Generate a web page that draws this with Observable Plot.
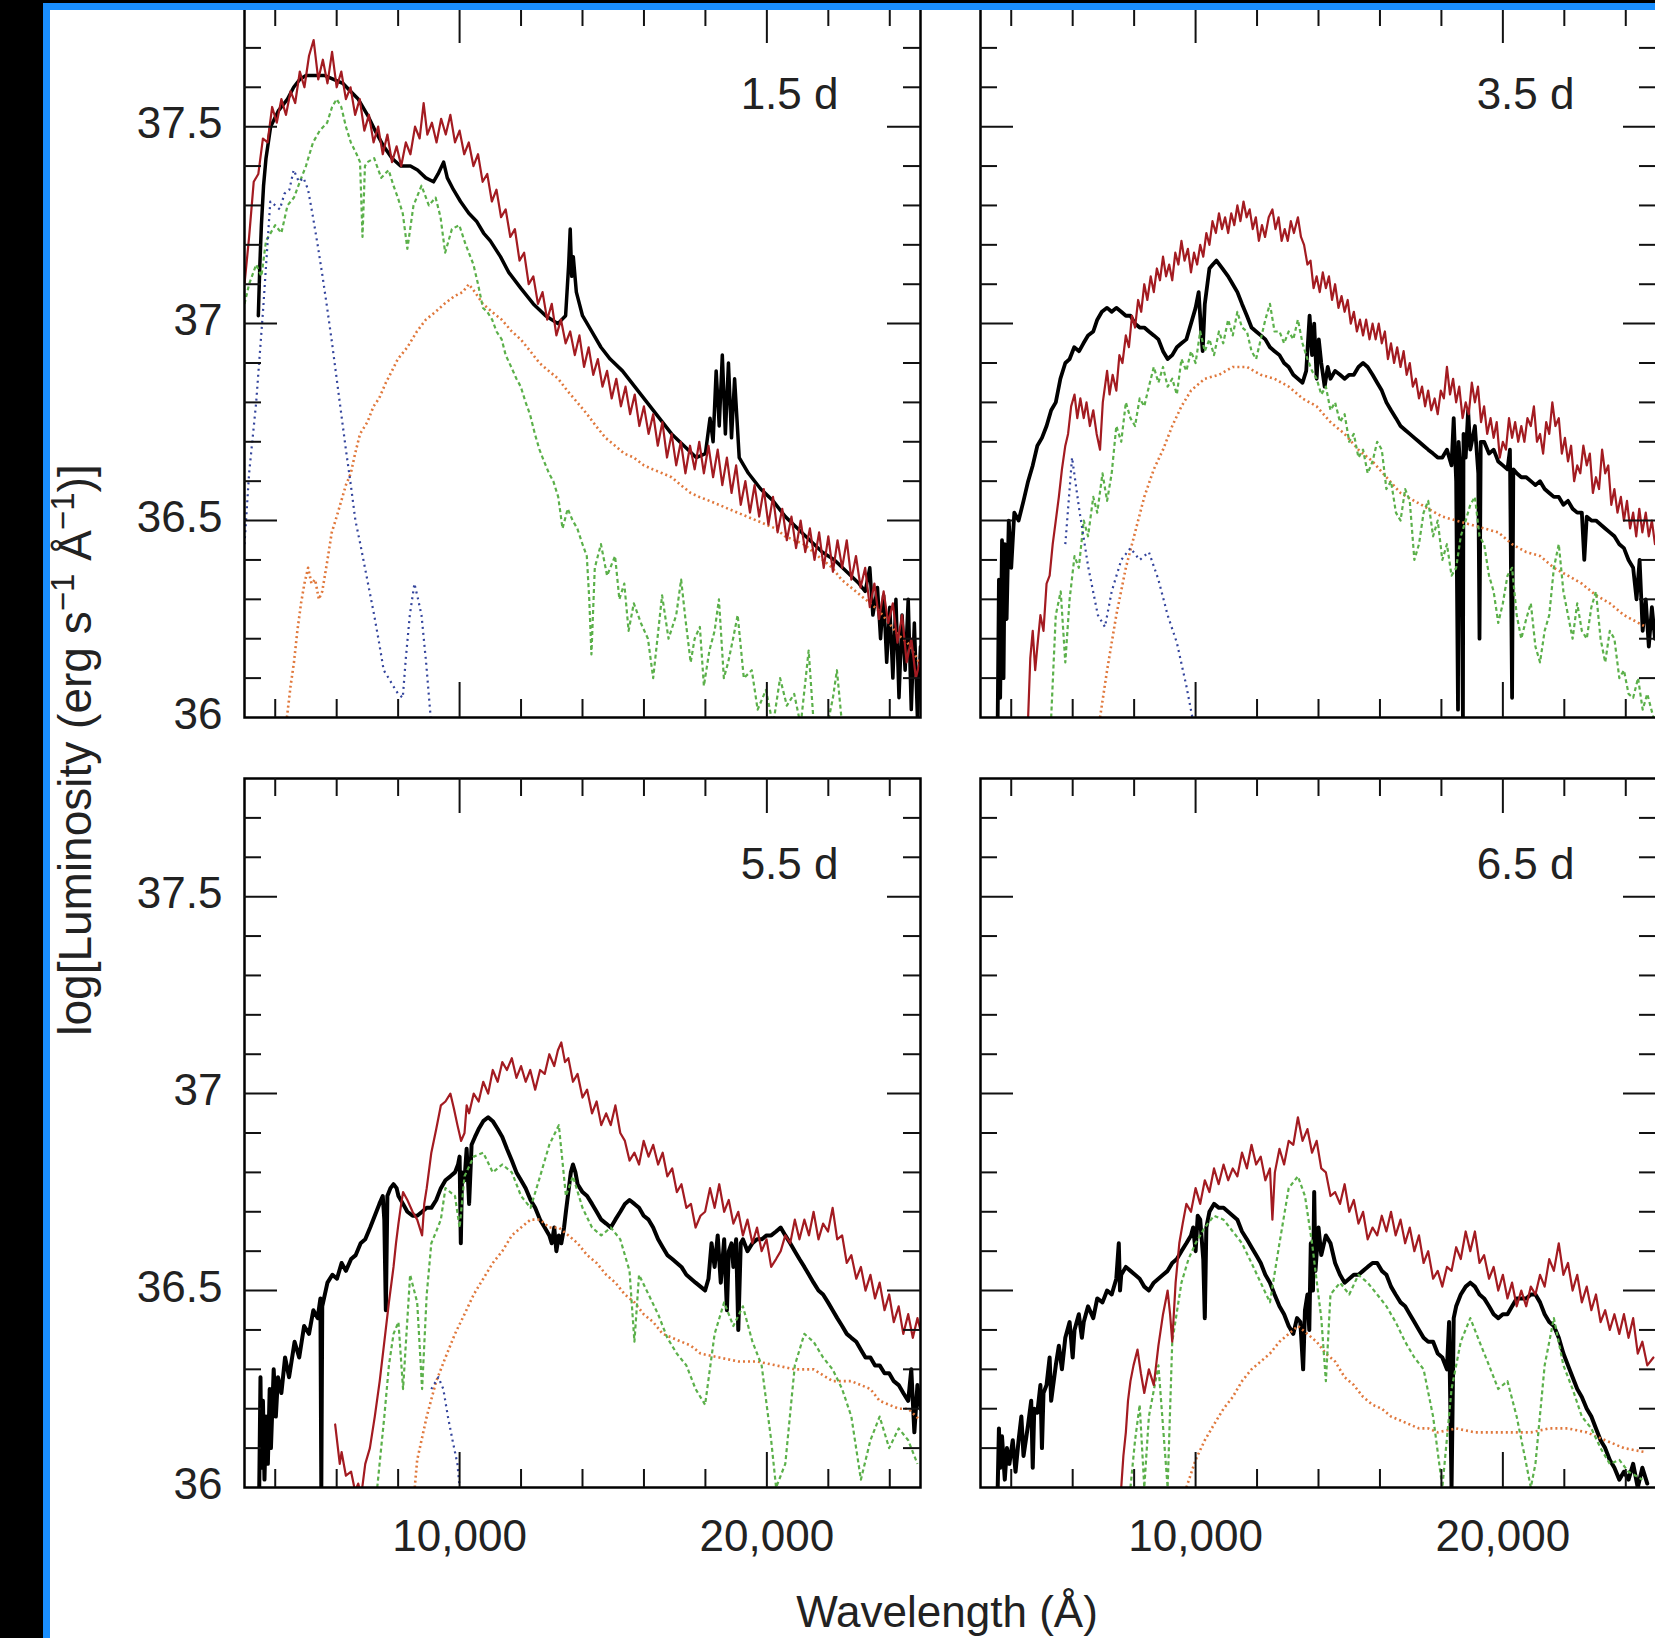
<!DOCTYPE html>
<html><head><meta charset="utf-8">
<script src="https://cdn.jsdelivr.net/npm/d3@7"></script>
<script src="https://cdn.jsdelivr.net/npm/@observablehq/plot@0.6"></script>
<style>
html,body{margin:0;padding:0;background:#000;overflow:hidden;width:1655px;height:1638px;}
#frame{position:absolute;left:43px;top:3px;width:1605px;height:1628px;background:#fff;border-left:7px solid #1a8fff;border-top:7px solid #1a8fff;overflow:hidden;font-family:"Liberation Sans",Arial,Helvetica,sans-serif;color:#222;}
#ytitle{position:absolute;width:900px;height:46px;left:-425px;top:717px;text-align:center;font-size:46px;line-height:46px;transform:rotate(-90deg);white-space:nowrap;}
#xtitle{position:absolute;width:600px;height:44px;left:597px;top:1580px;text-align:center;font-size:44px;line-height:44px;white-space:nowrap;}
sup{font-size:0.72em;vertical-align:0;position:relative;top:-0.5em;}
</style></head>
<body>
<div id="frame">
<div id="ytitle">log[Luminosity (erg s<sup>−1</sup> Å<sup>−1</sup>)]</div>
<div id="xtitle">Wavelength (Å)</div>
</div>
<script>
// ---- axis ticks / labels ----
const xDomain = [3000, 25000];
const yDomain = [36, 37.8];
const xTicksMinor = [4000, 6000, 8000, 12000, 14000, 16000, 18000, 22000, 24000];
const xTicksMajor = [10000, 20000];
const yTicksMinor = [36.1, 36.2, 36.3, 36.4, 36.6, 36.7, 36.8, 36.9, 37.1, 37.2, 37.3, 37.4, 37.6, 37.7];
const yTicksMajor = [36.5, 37, 37.5];
const xTickLabels = [10000, 20000];
const yTickLabels = [36, 36.5, 37, 37.5];
const panelLabels = ["1.5 d", "3.5 d", "5.5 d", "6.5 d"];

// ---- panel 1 (1.5 d) ----
const p1Black = [[3450,37.02],[3500,37.15],[3550,37.25],[3620,37.35],[3700,37.42],[3850,37.50],[4100,37.54],[4400,37.57],[4600,37.60],[4800,37.62],[5000,37.63],[5250,37.63],[5600,37.63],[5900,37.62],[6200,37.61],[6450,37.59],[6700,37.57],[7000,37.53],[7250,37.49],[7530,37.45],[7800,37.42],[8080,37.40],[8400,37.40],[8630,37.39],[8900,37.37],[9150,37.36],[9300,37.38],[9480,37.41],[9600,37.37],[9800,37.34],[10030,37.31],[10300,37.28],[10550,37.26],[10780,37.23],[11000,37.21],[11330,37.17],[11600,37.13],[11990,37.09],[12400,37.05],[12800,37.02],[13200,37.00],[13450,37.02],[13550,37.15],[13600,37.24],[13650,37.12],[13700,37.17],[13800,37.08],[14000,37.02],[14300,36.98],[14600,36.94],[14900,36.91],[15300,36.88],[15700,36.84],[16100,36.80],[16500,36.76],[16900,36.72],[17300,36.69],[17700,36.66],[18000,36.67],[18150,36.76],[18250,36.70],[18350,36.88],[18450,36.74],[18550,36.92],[18650,36.72],[18750,36.90],[18850,36.71],[18950,36.86],[19100,36.66],[19400,36.62],[19800,36.58],[20200,36.55],[20600,36.51],[21000,36.48],[21400,36.45],[21800,36.42],[22200,36.40],[22600,36.37],[23000,36.34],[23200,36.32],[23350,36.38],[23450,36.26],[23600,36.33],[23700,36.20],[23800,36.31],[23900,36.14],[24000,36.28],[24100,36.10],[24200,36.30],[24300,36.05],[24400,36.26],[24500,36.12],[24600,36.30],[24700,36.02],[24800,36.24],[24900,36.00],[25000,36.18]];
const p1Red = [[3000,37.10],[3150,37.22],[3300,37.36],[3450,37.38],[3600,37.47],[3750,37.46],[3900,37.55],[4050,37.51],[4200,37.57],[4350,37.53],[4500,37.59],[4650,37.56],[4800,37.64],[4950,37.60],[5100,37.68],[5250,37.72],[5400,37.62],[5550,37.67],[5700,37.61],[5850,37.69],[6000,37.60],[6150,37.64],[6300,37.57],[6450,37.60],[6600,37.53],[6750,37.57],[6900,37.49],[7050,37.53],[7200,37.46],[7350,37.50],[7500,37.43],[7650,37.48],[7800,37.41],[7950,37.45],[8100,37.40],[8250,37.46],[8400,37.43],[8550,37.50],[8700,37.47],[8830,37.56],[8950,37.48],[9100,37.51],[9250,37.46],[9400,37.52],[9550,37.48],[9700,37.53],[9850,37.46],[10000,37.49],[10150,37.43],[10300,37.46],[10450,37.40],[10600,37.43],[10750,37.36],[10900,37.38],[11050,37.31],[11200,37.34],[11350,37.27],[11500,37.29],[11650,37.22],[11800,37.24],[11950,37.16],[12100,37.18],[12250,37.10],[12400,37.12],[12550,37.05],[12700,37.08],[12850,37.01],[13000,37.05],[13150,36.97],[13300,37.01],[13450,36.95],[13600,36.98],[13750,36.92],[13900,36.97],[14050,36.89],[14200,36.94],[14350,36.87],[14500,36.91],[14650,36.84],[14800,36.88],[14950,36.81],[15100,36.86],[15250,36.79],[15400,36.84],[15550,36.77],[15700,36.82],[15850,36.74],[16000,36.79],[16150,36.72],[16300,36.77],[16450,36.69],[16600,36.75],[16750,36.66],[16900,36.72],[17050,36.64],[17200,36.70],[17350,36.62],[17500,36.69],[17650,36.63],[17800,36.70],[17950,36.62],[18100,36.69],[18250,36.61],[18400,36.68],[18550,36.59],[18700,36.66],[18850,36.57],[19000,36.64],[19150,36.54],[19300,36.60],[19450,36.52],[19600,36.59],[19750,36.51],[19900,36.58],[20050,36.49],[20200,36.56],[20350,36.47],[20500,36.53],[20650,36.45],[20800,36.51],[20950,36.43],[21100,36.50],[21250,36.42],[21400,36.48],[21550,36.40],[21700,36.47],[21850,36.38],[22000,36.46],[22150,36.37],[22300,36.45],[22450,36.38],[22600,36.45],[22750,36.35],[22900,36.41],[23050,36.33],[23200,36.38],[23350,36.28],[23500,36.34],[23650,36.25],[23800,36.32],[23950,36.24],[24100,36.29],[24250,36.19],[24400,36.26],[24550,36.14],[24700,36.20],[24850,36.10],[25000,36.15]];
const p1Green = [[3000,37.05],[3150,37.10],[3380,37.15],[3550,37.12],[3700,37.21],[4000,37.25],[4200,37.23],[4400,37.30],[4610,37.32],[4800,37.36],[5000,37.40],[5230,37.46],[5450,37.49],[5690,37.51],[5850,37.55],[6000,37.57],[6150,37.55],[6300,37.50],[6460,37.46],[6650,37.43],[6760,37.41],[6840,37.22],[6920,37.40],[7000,37.41],[7220,37.42],[7450,37.37],[7690,37.39],[7850,37.35],[7990,37.32],[8150,37.28],[8300,37.19],[8500,37.30],[8760,37.35],[9000,37.30],[9220,37.32],[9380,37.27],[9530,37.18],[9750,37.24],[9990,37.25],[10200,37.20],[10450,37.15],[10600,37.10],[10760,37.04],[10900,37.03],[11060,37.01],[11200,36.98],[11370,36.96],[11500,36.92],[11680,36.89],[11850,36.86],[11990,36.84],[12150,36.80],[12290,36.77],[12450,36.72],[12600,36.68],[12750,36.65],[12910,36.62],[13050,36.60],[13210,36.56],[13350,36.48],[13520,36.53],[13680,36.50],[13830,36.48],[14000,36.44],[14140,36.41],[14220,36.30],[14290,36.16],[14400,36.38],[14600,36.44],[14800,36.36],[15060,36.41],[15200,36.30],[15360,36.34],[15500,36.22],[15670,36.29],[15900,36.24],[16130,36.20],[16300,36.10],[16590,36.31],[16800,36.20],[17050,36.26],[17210,36.35],[17350,36.25],[17520,36.14],[17650,36.20],[17820,36.23],[17950,36.08],[18130,36.17],[18300,36.22],[18440,36.30],[18600,36.10],[18740,36.14],[18900,36.20],[19050,36.26],[19250,36.10],[19510,36.12],[19700,36.02],[19970,36.07],[20200,35.98],[20430,36.10],[20650,36.03],[20890,36.06],[21100,35.98],[21360,36.17],[21510,36.00],[21700,35.95],[21970,35.98],[22150,36.05],[22280,36.12],[22450,35.98],[22740,35.98],[23000,35.95]];
const p1Orange = [[4380,36.00],[4500,36.08],[4610,36.14],[4720,36.22],[4840,36.29],[4950,36.34],[5070,36.38],[5180,36.34],[5300,36.35],[5420,36.30],[5530,36.32],[5700,36.40],[5840,36.47],[6000,36.51],[6150,36.55],[6300,36.59],[6460,36.62],[6600,36.67],[6760,36.72],[7000,36.75],[7200,36.79],[7380,36.81],[7600,36.85],[7800,36.88],[7990,36.91],[8300,36.94],[8610,36.98],[8900,37.01],[9220,37.03],[9500,37.05],[9840,37.07],[10100,37.08],[10300,37.10],[10500,37.08],[10760,37.05],[11050,37.03],[11370,37.01],[11700,36.98],[11990,36.96],[12300,36.93],[12600,36.90],[12900,36.88],[13210,36.86],[13500,36.83],[13830,36.80],[14150,36.77],[14440,36.74],[14750,36.71],[15060,36.69],[15360,36.67],[15670,36.66],[16000,36.64],[16290,36.63],[16600,36.62],[16900,36.61],[17200,36.59],[17520,36.57],[17800,36.56],[18130,36.55],[18440,36.54],[18740,36.53],[19050,36.52],[19360,36.51],[19670,36.50],[19970,36.49],[20280,36.48],[20590,36.46],[20900,36.45],[21200,36.44],[21510,36.42],[21820,36.40],[22130,36.38],[22430,36.35],[22740,36.33],[23050,36.31],[23360,36.29],[23660,36.27],[23970,36.24],[24270,36.21],[24580,36.19],[24890,36.15],[25000,36.13]];
const p1Blue = [[3000,36.44],[3150,36.62],[3380,36.80],[3610,37.04],[3840,37.31],[4000,37.30],[4150,37.29],[4300,37.33],[4460,37.34],[4600,37.39],[4770,37.36],[4920,37.37],[5070,37.34],[5230,37.27],[5380,37.20],[5540,37.12],[5690,37.04],[5850,36.95],[6000,36.86],[6150,36.77],[6300,36.68],[6460,36.59],[6610,36.50],[6770,36.44],[6920,36.38],[7070,36.32],[7220,36.26],[7380,36.19],[7530,36.12],[7690,36.10],[7840,36.08],[8000,36.06],[8150,36.05],[8250,36.15],[8380,36.26],[8530,36.34],[8650,36.30],[8760,36.26],[8910,36.14],[9070,35.99]];

// ---- panel 2 (3.5 d) ----
const p2Black = [[3560,36.00],[3600,36.35],[3640,36.05],[3700,36.45],[3750,36.10],[3790,36.44],[3850,36.25],[3920,36.50],[4000,36.38],[4100,36.52],[4240,36.50],[4400,36.55],[4550,36.60],[4700,36.64],[4850,36.69],[5000,36.71],[5150,36.74],[5300,36.78],[5450,36.80],[5600,36.86],[5760,36.90],[5900,36.91],[6050,36.94],[6210,36.93],[6350,36.95],[6500,36.97],[6670,36.98],[6800,37.01],[6950,37.03],[7120,37.04],[7270,37.03],[7420,37.04],[7580,37.03],[7730,37.02],[7880,37.02],[8030,37.00],[8180,36.99],[8330,36.99],[8480,36.98],[8640,36.97],[8790,36.96],[8940,36.93],[9090,36.91],[9240,36.92],[9390,36.94],[9540,36.95],[9700,36.96],[9850,37.00],[10000,37.04],[10100,37.08],[10180,36.98],[10230,36.93],[10300,37.05],[10450,37.14],[10560,37.15],[10680,37.16],[10870,37.14],[11060,37.12],[11210,37.10],[11360,37.08],[11510,37.05],[11670,37.02],[11820,36.99],[11970,36.98],[12120,36.97],[12270,36.96],[12420,36.94],[12570,36.93],[12730,36.92],[12880,36.90],[13030,36.89],[13180,36.87],[13330,36.86],[13480,36.85],[13600,36.88],[13710,37.02],[13790,36.92],[13860,37.00],[13940,36.86],[14010,36.96],[14090,36.90],[14200,36.84],[14300,36.89],[14390,36.86],[14540,36.88],[14700,36.87],[14850,36.86],[15000,36.87],[15150,36.87],[15300,36.89],[15450,36.90],[15600,36.89],[15760,36.87],[15910,36.85],[16060,36.83],[16210,36.80],[16360,36.78],[16520,36.76],[16670,36.74],[16820,36.73],[16970,36.72],[17120,36.71],[17270,36.70],[17420,36.69],[17570,36.68],[17730,36.67],[17880,36.66],[18030,36.66],[18180,36.68],[18330,36.64],[18400,36.76],[18480,36.60],[18540,36.02],[18560,36.70],[18630,36.62],[18700,36.00],[18720,36.72],[18790,36.66],[18870,36.78],[18940,36.68],[19090,36.74],[19200,36.62],[19240,36.20],[19280,36.70],[19390,36.70],[19550,36.67],[19700,36.68],[19850,36.65],[20000,36.64],[20150,36.63],[20230,36.68],[20300,36.05],[20340,36.63],[20450,36.62],[20600,36.61],[20760,36.61],[20910,36.60],[21060,36.59],[21210,36.60],[21360,36.58],[21510,36.57],[21660,36.56],[21820,36.56],[21970,36.54],[22120,36.55],[22270,36.53],[22420,36.52],[22570,36.52],[22650,36.40],[22730,36.51],[22880,36.50],[23030,36.50],[23180,36.49],[23330,36.48],[23480,36.47],[23630,36.46],[23790,36.44],[23940,36.43],[24090,36.40],[24240,36.38],[24350,36.30],[24450,36.40],[24550,36.22],[24650,36.30],[24750,36.18],[24850,36.28],[24950,36.20]];
const p2Red = [[4550,36.00],[4620,36.15],[4700,36.22],[4780,36.12],[4850,36.18],[4950,36.26],[5050,36.22],[5150,36.34],[5250,36.36],[5350,36.44],[5450,36.50],[5550,36.56],[5650,36.63],[5760,36.69],[5850,36.72],[5950,36.79],[6060,36.82],[6150,36.76],[6250,36.81],[6360,36.76],[6450,36.80],[6560,36.74],[6670,36.78],[6780,36.72],[6890,36.68],[6980,36.80],[7050,36.84],[7120,36.88],[7200,36.82],[7300,36.87],[7420,36.83],[7520,36.92],[7620,36.90],[7730,36.97],[7830,36.94],[7930,37.02],[8030,36.99],[8130,37.06],[8230,37.03],[8330,37.10],[8430,37.06],[8540,37.12],[8640,37.08],[8740,37.14],[8840,37.11],[8940,37.17],[9040,37.12],[9140,37.15],[9240,37.11],[9340,37.18],[9440,37.15],[9540,37.21],[9640,37.16],[9750,37.19],[9850,37.13],[9950,37.18],[10050,37.15],[10150,37.20],[10250,37.17],[10350,37.23],[10450,37.20],[10550,37.26],[10660,37.23],[10760,37.28],[10860,37.24],[10960,37.27],[11060,37.23],[11160,37.28],[11260,37.25],[11360,37.30],[11460,37.26],[11560,37.31],[11660,37.27],[11760,37.29],[11860,37.24],[11960,37.27],[12060,37.21],[12160,37.25],[12260,37.22],[12380,37.27],[12500,37.29],[12600,37.24],[12700,37.27],[12800,37.21],[12900,37.24],[13000,37.21],[13100,37.26],[13200,37.23],[13330,37.27],[13430,37.22],[13530,37.20],[13640,37.15],[13740,37.16],[13840,37.09],[13940,37.12],[14040,37.08],[14140,37.13],[14240,37.09],[14340,37.12],[14440,37.06],[14540,37.10],[14650,37.04],[14750,37.07],[14850,37.03],[14950,37.06],[15050,37.00],[15150,37.03],[15250,36.98],[15350,37.01],[15450,36.97],[15550,37.01],[15660,36.96],[15760,37.00],[15860,36.96],[15960,37.00],[16060,36.95],[16160,36.98],[16260,36.91],[16360,36.95],[16460,36.90],[16560,36.94],[16670,36.89],[16770,36.93],[16870,36.87],[16970,36.90],[17070,36.84],[17170,36.86],[17270,36.81],[17370,36.84],[17470,36.79],[17570,36.83],[17670,36.78],[17780,36.81],[17880,36.77],[17980,36.83],[18080,36.81],[18180,36.89],[18280,36.82],[18380,36.86],[18480,36.80],[18580,36.84],[18690,36.76],[18790,36.80],[18890,36.77],[18990,36.85],[19090,36.80],[19190,36.84],[19290,36.75],[19390,36.79],[19490,36.72],[19600,36.76],[19700,36.71],[19800,36.75],[19900,36.66],[20000,36.70],[20100,36.68],[20200,36.76],[20300,36.71],[20400,36.75],[20500,36.70],[20600,36.74],[20700,36.70],[20800,36.76],[20910,36.74],[21010,36.79],[21110,36.70],[21210,36.72],[21310,36.67],[21410,36.75],[21510,36.72],[21610,36.80],[21710,36.74],[21820,36.76],[21920,36.67],[22020,36.71],[22120,36.65],[22220,36.69],[22320,36.60],[22420,36.64],[22520,36.62],[22620,36.69],[22730,36.64],[22830,36.67],[22930,36.57],[23030,36.61],[23130,36.58],[23230,36.68],[23330,36.62],[23430,36.64],[23530,36.54],[23630,36.58],[23730,36.52],[23840,36.56],[23940,36.50],[24040,36.55],[24140,36.48],[24240,36.52],[24340,36.46],[24440,36.53],[24540,36.47],[24650,36.52],[24750,36.46],[24850,36.50],[24950,36.44]];
const p2Green = [[5300,36.00],[5450,36.26],[5610,36.32],[5760,36.14],[5900,36.30],[6060,36.41],[6200,36.38],[6360,36.50],[6500,36.46],[6670,36.56],[6800,36.52],[6970,36.62],[7120,36.55],[7270,36.62],[7420,36.74],[7580,36.70],[7730,36.80],[7880,36.76],[8030,36.74],[8180,36.81],[8330,36.79],[8480,36.84],[8640,36.89],[8790,36.85],[8940,36.89],[9090,36.84],[9240,36.86],[9390,36.82],[9540,36.91],[9700,36.88],[9850,36.93],[10000,36.90],[10150,36.98],[10300,36.93],[10450,36.96],[10600,36.92],[10760,36.98],[10900,36.95],[11060,37.01],[11210,36.97],[11360,37.03],[11510,36.99],[11670,36.98],[11820,36.93],[11970,36.91],[12120,36.96],[12270,37.01],[12420,37.05],[12570,36.98],[12730,36.98],[12880,36.95],[13030,36.98],[13180,36.96],[13330,37.01],[13480,36.95],[13640,36.91],[13790,36.88],[13940,36.86],[14090,36.82],[14240,36.84],[14390,36.78],[14540,36.80],[14700,36.75],[14850,36.77],[15000,36.70],[15150,36.72],[15300,36.66],[15450,36.68],[15600,36.62],[15760,36.65],[15910,36.70],[16060,36.68],[16210,36.58],[16360,36.60],[16520,36.52],[16670,36.50],[16820,36.58],[16970,36.55],[17120,36.40],[17270,36.44],[17420,36.52],[17570,36.55],[17730,36.46],[17880,36.50],[18030,36.40],[18180,36.44],[18330,36.36],[18480,36.38],[18630,36.46],[18790,36.50],[18940,36.54],[19090,36.56],[19240,36.46],[19390,36.44],[19550,36.36],[19700,36.32],[19850,36.24],[20000,36.29],[20150,36.36],[20300,36.38],[20450,36.26],[20600,36.20],[20760,36.25],[20910,36.29],[21060,36.18],[21210,36.14],[21360,36.22],[21510,36.26],[21660,36.38],[21820,36.44],[21970,36.32],[22120,36.26],[22270,36.20],[22420,36.29],[22570,36.22],[22730,36.20],[22880,36.28],[23030,36.32],[23180,36.20],[23330,36.14],[23480,36.22],[23630,36.20],[23790,36.10],[23940,36.12],[24090,36.06],[24240,36.05],[24400,36.10],[24550,36.02],[24700,36.06],[24900,36.00]];
const p2Orange = [[6890,36.00],[7120,36.12],[7420,36.26],[7730,36.38],[8030,36.47],[8330,36.56],[8640,36.63],[8940,36.68],[9240,36.74],[9540,36.79],[9850,36.83],[10300,36.86],[10760,36.87],[11210,36.89],[11670,36.89],[12120,36.87],[12570,36.86],[13030,36.84],[13480,36.81],[13940,36.79],[14390,36.75],[14850,36.72],[15300,36.68],[15760,36.65],[16210,36.61],[16670,36.57],[17120,36.55],[17570,36.53],[18030,36.51],[18480,36.50],[18940,36.49],[19390,36.48],[19850,36.47],[20300,36.44],[20760,36.42],[21210,36.41],[21660,36.38],[22120,36.36],[22570,36.34],[23030,36.31],[23480,36.29],[23940,36.26],[24650,36.23]];
const p2Blue = [[5760,36.44],[5980,36.66],[6210,36.53],[6510,36.38],[6820,36.26],[7050,36.23],[7270,36.32],[7580,36.40],[7880,36.43],[8180,36.40],[8480,36.42],[8790,36.35],[9090,36.26],[9390,36.19],[9700,36.08],[9920,35.99]];

// ---- panel 3 (5.5 d) ----
const p3Black = [[3480,36.00],[3520,36.28],[3550,36.05],[3600,36.22],[3650,36.02],[3700,36.18],[3760,36.06],[3820,36.25],[3860,36.10],[3950,36.30],[4020,36.18],[4090,36.28],[4200,36.24],[4320,36.33],[4450,36.28],[4630,36.37],[4780,36.33],[4940,36.41],[5100,36.39],[5240,36.45],[5380,36.43],[5470,36.48],[5500,36.00],[5530,36.46],[5700,36.52],[5860,36.54],[6010,36.53],[6160,36.57],[6300,36.55],[6470,36.58],[6620,36.59],[6780,36.62],[6930,36.63],[7090,36.66],[7240,36.69],[7390,36.72],[7500,36.74],[7550,36.68],[7600,36.45],[7650,36.74],[7750,36.76],[7850,36.77],[7950,36.76],[8010,36.74],[8160,36.72],[8300,36.70],[8470,36.69],[8620,36.69],[8780,36.70],[8930,36.71],[9080,36.71],[9240,36.73],[9390,36.76],[9540,36.78],[9700,36.79],[9850,36.80],[9950,36.82],[10000,36.84],[10040,36.62],[10080,36.80],[10160,36.78],[10230,36.86],[10310,36.72],[10390,36.87],[10500,36.89],[10620,36.91],[10770,36.93],[10930,36.94],[11080,36.93],[11240,36.91],[11390,36.89],[11540,36.86],[11700,36.83],[11850,36.80],[12000,36.78],[12150,36.76],[12310,36.73],[12460,36.71],[12620,36.68],[12770,36.66],[12920,36.64],[13000,36.62],[13080,36.66],[13150,36.60],[13230,36.64],[13310,36.62],[13400,36.66],[13460,36.70],[13540,36.75],[13620,36.80],[13690,36.82],[13770,36.80],[13840,36.77],[14000,36.75],[14150,36.74],[14310,36.72],[14460,36.70],[14610,36.68],[14770,36.67],[14920,36.66],[15070,36.68],[15230,36.70],[15380,36.72],[15530,36.73],[15690,36.72],[15840,36.71],[15990,36.69],[16150,36.68],[16300,36.66],[16460,36.63],[16610,36.61],[16760,36.59],[16920,36.58],[17070,36.57],[17220,36.56],[17380,36.54],[17530,36.53],[17680,36.52],[17840,36.51],[17990,36.50],[18100,36.53],[18200,36.62],[18300,36.56],[18400,36.64],[18500,36.52],[18610,36.63],[18700,36.45],[18760,36.60],[18850,36.62],[18910,36.56],[19000,36.63],[19070,36.40],[19150,36.62],[19220,36.63],[19370,36.60],[19530,36.62],[19680,36.63],[19830,36.63],[19990,36.64],[20140,36.64],[20300,36.65],[20450,36.66],[20600,36.64],[20760,36.62],[20910,36.60],[21060,36.58],[21220,36.56],[21370,36.54],[21520,36.52],[21680,36.50],[21830,36.49],[21990,36.47],[22140,36.45],[22290,36.43],[22450,36.41],[22600,36.39],[22750,36.38],[22910,36.37],[23060,36.35],[23210,36.33],[23370,36.33],[23520,36.31],[23670,36.31],[23830,36.29],[23980,36.29],[24130,36.27],[24290,36.26],[24440,36.24],[24600,36.22],[24700,36.30],[24800,36.14],[24900,36.26],[25000,36.20]];
const p3Red = [[5950,36.16],[6010,36.12],[6100,36.06],[6160,36.09],[6300,36.03],[6470,36.04],[6600,35.99],[6700,36.01],[6800,35.98],[6930,36.06],[7080,36.10],[7240,36.18],[7400,36.27],[7550,36.37],[7700,36.47],[7850,36.56],[7930,36.62],[8010,36.67],[8100,36.72],[8160,36.75],[8300,36.73],[8470,36.70],[8620,36.68],[8780,36.64],[8850,36.72],[8930,36.76],[9080,36.85],[9240,36.91],[9390,36.97],[9540,36.98],[9700,37.00],[9820,36.96],[9930,36.92],[10050,36.88],[10160,36.90],[10230,36.97],[10310,36.95],[10460,37.00],[10620,36.98],[10770,37.03],[10930,37.00],[11080,37.06],[11240,37.03],[11390,37.08],[11540,37.06],[11700,37.09],[11850,37.04],[12000,37.07],[12150,37.03],[12300,37.06],[12460,37.01],[12620,37.06],[12770,37.05],[12920,37.10],[13080,37.07],[13200,37.11],[13310,37.13],[13430,37.08],[13540,37.09],[13690,37.03],[13840,37.05],[14000,36.99],[14150,37.01],[14310,36.95],[14460,36.98],[14610,36.92],[14770,36.95],[14920,36.92],[15070,36.97],[15230,36.90],[15380,36.88],[15530,36.83],[15690,36.85],[15840,36.82],[15990,36.88],[16150,36.84],[16300,36.87],[16460,36.82],[16610,36.85],[16760,36.79],[16920,36.81],[17070,36.75],[17220,36.77],[17380,36.71],[17530,36.72],[17680,36.66],[17840,36.69],[17990,36.70],[18150,36.76],[18300,36.71],[18450,36.77],[18610,36.70],[18760,36.73],[18910,36.67],[19070,36.70],[19220,36.64],[19370,36.68],[19530,36.62],[19680,36.66],[19830,36.60],[19990,36.63],[20140,36.56],[20300,36.58],[20450,36.60],[20600,36.64],[20760,36.62],[20910,36.68],[21060,36.63],[21220,36.68],[21370,36.64],[21520,36.70],[21680,36.63],[21830,36.67],[21990,36.65],[22140,36.71],[22290,36.63],[22450,36.64],[22600,36.57],[22750,36.59],[22910,36.53],[23060,36.56],[23210,36.50],[23370,36.54],[23520,36.48],[23670,36.52],[23830,36.45],[23980,36.49],[24130,36.42],[24290,36.46],[24440,36.39],[24600,36.44],[24750,36.38],[24900,36.43],[25000,36.40]];
const p3Green = [[7320,36.00],[7550,36.18],[7700,36.31],[7850,36.39],[8010,36.42],[8160,36.25],[8390,36.54],[8620,36.47],[8780,36.25],[8930,36.49],[9080,36.62],[9240,36.65],[9390,36.68],[9540,36.76],[9850,36.74],[10000,36.66],[10160,36.79],[10460,36.84],[10770,36.85],[11080,36.80],[11390,36.82],[11700,36.80],[12000,36.74],[12310,36.71],[12620,36.79],[12920,36.87],[13230,36.92],[13460,36.74],[13690,36.79],[14000,36.71],[14310,36.66],[14610,36.64],[14920,36.66],[15230,36.63],[15530,36.55],[15690,36.37],[15840,36.54],[16150,36.49],[16460,36.44],[16760,36.38],[17070,36.34],[17380,36.31],[17680,36.25],[17990,36.21],[18300,36.39],[18610,36.47],[18910,36.41],[19220,36.46],[19530,36.37],[19830,36.31],[20140,36.12],[20300,36.00],[20600,36.06],[20910,36.31],[21220,36.39],[21520,36.37],[21830,36.33],[22140,36.30],[22450,36.25],[22750,36.18],[23060,36.02],[23370,36.12],[23670,36.18],[23980,36.10],[24290,36.15],[24600,36.12],[24900,36.06]];
const p3Orange = [[8540,36.00],[8620,36.07],[8930,36.18],[9240,36.27],[9540,36.33],[9850,36.39],[10160,36.44],[10460,36.49],[10770,36.53],[11080,36.57],[11390,36.60],[11700,36.64],[12000,36.66],[12310,36.68],[12620,36.68],[12920,36.66],[13230,36.66],[13540,36.64],[13840,36.62],[14150,36.59],[14460,36.57],[14770,36.54],[15070,36.52],[15380,36.49],[15690,36.47],[15990,36.44],[16300,36.42],[16610,36.39],[16920,36.38],[17220,36.37],[17530,36.36],[17840,36.34],[18450,36.33],[19070,36.32],[19680,36.32],[20300,36.31],[20910,36.30],[21520,36.30],[22140,36.27],[22750,36.27],[23060,36.26],[23370,36.25],[23670,36.22],[23980,36.21],[24290,36.20],[24600,36.20],[25000,36.17]];
const p3Blue = [[9080,36.25],[9310,36.28],[9470,36.25],[9620,36.18],[9770,36.12],[9930,36.06],[10000,36.00]];

// ---- panel 4 (6.5 d) ----
const p4Black = [[3560,36.00],[3600,36.15],[3640,36.05],[3700,36.13],[3790,36.02],[3860,36.10],[3940,36.06],[4050,36.12],[4140,36.04],[4240,36.12],[4330,36.18],[4400,36.08],[4550,36.16],[4650,36.22],[4700,36.05],[4750,36.20],[4850,36.19],[4950,36.26],[5000,36.10],[5050,36.24],[5150,36.26],[5250,36.33],[5300,36.22],[5450,36.31],[5550,36.36],[5650,36.30],[5760,36.38],[5900,36.42],[6000,36.33],[6060,36.40],[6200,36.44],[6300,36.38],[6360,36.42],[6500,36.46],[6670,36.43],[6800,36.48],[6970,36.47],[7120,36.50],[7270,36.49],[7420,36.53],[7500,36.62],[7540,36.50],[7580,36.54],[7730,36.56],[7880,36.55],[8030,36.54],[8180,36.53],[8330,36.51],[8480,36.50],[8640,36.52],[8790,36.53],[8940,36.54],[9090,36.55],[9240,36.57],[9390,36.58],[9540,36.60],[9700,36.62],[9850,36.64],[9920,36.66],[10000,36.60],[10070,36.69],[10150,36.68],[10250,36.58],[10300,36.43],[10350,36.66],[10450,36.70],[10600,36.72],[10760,36.71],[10910,36.71],[11060,36.70],[11210,36.69],[11360,36.68],[11510,36.65],[11670,36.63],[11820,36.61],[11970,36.59],[12120,36.57],[12270,36.54],[12420,36.52],[12570,36.49],[12730,36.46],[12880,36.44],[13030,36.41],[13180,36.39],[13300,36.43],[13410,36.42],[13500,36.30],[13560,36.45],[13640,36.49],[13700,36.40],[13750,36.62],[13820,36.50],[13860,36.75],[13900,36.55],[14000,36.66],[14090,36.59],[14240,36.64],[14390,36.62],[14540,36.57],[14700,36.54],[14850,36.52],[15000,36.53],[15150,36.54],[15300,36.54],[15450,36.55],[15600,36.56],[15760,36.57],[15910,36.57],[16060,36.55],[16210,36.54],[16360,36.51],[16510,36.49],[16670,36.47],[16820,36.46],[16970,36.44],[17120,36.42],[17270,36.40],[17420,36.38],[17570,36.37],[17730,36.37],[17880,36.34],[18030,36.33],[18180,36.30],[18250,36.42],[18330,36.00],[18400,36.43],[18480,36.46],[18630,36.49],[18790,36.51],[18940,36.52],[19090,36.51],[19240,36.49],[19390,36.48],[19550,36.46],[19700,36.44],[19850,36.43],[20000,36.44],[20150,36.44],[20300,36.46],[20450,36.48],[20600,36.48],[20760,36.48],[20910,36.49],[21060,36.49],[21210,36.47],[21360,36.44],[21510,36.42],[21660,36.41],[21820,36.38],[21970,36.34],[22120,36.31],[22270,36.28],[22420,36.25],[22570,36.23],[22730,36.20],[22880,36.18],[23030,36.15],[23180,36.12],[23330,36.10],[23480,36.07],[23630,36.05],[23790,36.02],[23940,36.04],[24090,36.02],[24240,36.06],[24390,36.00],[24540,36.05],[24700,36.01]];
const p4Red = [[7580,36.00],[7650,36.08],[7730,36.14],[7800,36.22],[7880,36.27],[7980,36.31],[8110,36.35],[8220,36.29],[8330,36.24],[8480,36.30],[8640,36.26],[8790,36.36],[8940,36.44],[9090,36.50],[9170,36.44],[9240,36.37],[9350,36.52],[9470,36.62],[9580,36.67],[9700,36.72],[9850,36.70],[10000,36.76],[10150,36.72],[10300,36.78],[10450,36.75],[10600,36.81],[10750,36.77],[10910,36.82],[11060,36.78],[11210,36.81],[11360,36.79],[11510,36.85],[11670,36.81],[11820,36.87],[11970,36.82],[12120,36.84],[12270,36.78],[12420,36.81],[12500,36.68],[12580,36.80],[12730,36.86],[12880,36.82],[13030,36.88],[13180,36.87],[13330,36.94],[13480,36.88],[13640,36.91],[13790,36.85],[13940,36.88],[14090,36.81],[14240,36.80],[14390,36.74],[14540,36.75],[14700,36.72],[14850,36.77],[15000,36.70],[15150,36.73],[15300,36.67],[15450,36.70],[15600,36.63],[15760,36.66],[15910,36.64],[16060,36.69],[16210,36.65],[16360,36.70],[16510,36.64],[16670,36.68],[16820,36.62],[16970,36.66],[17120,36.60],[17270,36.64],[17420,36.57],[17570,36.60],[17730,36.53],[17880,36.55],[18030,36.51],[18180,36.56],[18330,36.55],[18480,36.61],[18630,36.58],[18790,36.65],[18940,36.60],[19090,36.65],[19240,36.57],[19390,36.59],[19550,36.53],[19700,36.56],[19850,36.50],[20000,36.54],[20150,36.48],[20300,36.52],[20450,36.46],[20600,36.50],[20760,36.46],[20910,36.51],[21060,36.49],[21210,36.54],[21360,36.51],[21510,36.58],[21660,36.55],[21820,36.62],[21970,36.54],[22120,36.57],[22270,36.50],[22420,36.54],[22570,36.47],[22730,36.51],[22880,36.45],[23030,36.49],[23180,36.42],[23330,36.45],[23480,36.40],[23630,36.44],[23790,36.39],[23940,36.44],[24090,36.38],[24240,36.43],[24390,36.34],[24540,36.37],[24700,36.31],[24900,36.33]];
const p4Green = [[7880,36.00],[8030,36.12],[8180,36.21],[8330,36.00],[8480,36.18],[8790,36.31],[9090,36.00],[9240,36.37],[9540,36.52],[9770,36.58],[10000,36.62],[10300,36.66],[10600,36.69],[10910,36.68],[11210,36.65],[11510,36.62],[11820,36.57],[12120,36.52],[12420,36.47],[12730,36.62],[13030,36.76],[13330,36.79],[13560,36.74],[13790,36.62],[14090,36.43],[14240,36.27],[14390,36.49],[14700,36.52],[15000,36.49],[15300,36.54],[15600,36.52],[15910,36.49],[16210,36.46],[16510,36.42],[16820,36.37],[17120,36.33],[17420,36.30],[17730,36.18],[18030,36.00],[18330,36.25],[18630,36.37],[18940,36.43],[19240,36.37],[19550,36.31],[19850,36.25],[20150,36.27],[20450,36.18],[20760,36.06],[20910,36.00],[21060,36.06],[21360,36.31],[21660,36.43],[21970,36.31],[22270,36.25],[22570,36.18],[22880,36.15],[23180,36.10],[23480,36.06],[23790,36.07],[24090,36.04],[24540,36.02]];
const p4Orange = [[9700,36.00],[10000,36.07],[10300,36.12],[10600,36.16],[10910,36.20],[11210,36.23],[11510,36.27],[11820,36.30],[12120,36.32],[12420,36.34],[12730,36.37],[13030,36.39],[13330,36.41],[13640,36.39],[13940,36.37],[14240,36.34],[14540,36.32],[14850,36.28],[15150,36.26],[15450,36.23],[15760,36.21],[16060,36.20],[16360,36.18],[16670,36.17],[16970,36.16],[17270,36.15],[17570,36.15],[17880,36.14],[18480,36.15],[19090,36.14],[19700,36.14],[20300,36.14],[20910,36.14],[21510,36.15],[22120,36.15],[22730,36.14],[23330,36.12],[23940,36.10],[24620,36.09]];

// ---- layout / styling ----
const PW = 676, PH = 709;
const M = {left: 120, right: 10, top: 12, bottom: 80};
const ORIGIN = {x: 50, y: 10}; // page offset of the white area
const FONT = '"Liberation Sans", Arial, Helvetica, sans-serif';
const lineStyle = {
  black:  {stroke: "#000000", strokeWidth: 3.5},
  orange: {stroke: "#e0783c", strokeWidth: 2.6, strokeDasharray: "2,3", strokeLinecap: "butt"},
  green:  {stroke: "#5bb04a", strokeWidth: 2.2, strokeDasharray: "4,3", strokeLinecap: "butt"},
  blue:   {stroke: "#33449c", strokeWidth: 2.2, strokeDasharray: "2,4", strokeLinecap: "butt"},
  red:    {stroke: "#a31b21", strokeWidth: 2.2}
};
const panels = [
  {label: panelLabels[0], s: {black: p1Black, orange: p1Orange, green: p1Green, blue: p1Blue, red: p1Red}, px: 244, py: 8, yLab: true, xLab: false, bw: 3.5},
  {label: panelLabels[1], s: {black: p2Black, orange: p2Orange, green: p2Green, blue: p2Blue, red: p2Red}, px: 980, py: 8, yLab: false, xLab: false, bw: 3.8},
  {label: panelLabels[2], s: {black: p3Black, orange: p3Orange, green: p3Green, blue: p3Blue, red: p3Red}, px: 244, py: 778, yLab: true, xLab: true, bw: 4},
  {label: panelLabels[3], s: {black: p4Black, orange: p4Orange, green: p4Green, red: p4Red}, px: 980, py: 778, yLab: false, xLab: true, bw: 4}
];
const tickStyle = {stroke: "#111", strokeWidth: 2};
const container = document.getElementById("frame");

for (const p of panels) {
  const marks = [];
  for (const k of ["black", "orange", "green", "blue", "red"]) {
    if (!p.s[k]) continue;
    const st = k === "black" ? {...lineStyle.black, strokeWidth: p.bw} : lineStyle[k];
    marks.push(Plot.line(p.s[k], {x: d => d[0], y: d => d[1], clip: true, ...st}));
  }
  marks.push(Plot.frame({stroke: "#000", strokeWidth: 2.5}));
  // inward ticks on all four sides
  marks.push(Plot.tickX(xTicksMinor, {x: d => d, insetTop: PH - 18, ...tickStyle}));
  marks.push(Plot.tickX(xTicksMinor, {x: d => d, insetBottom: PH - 18, ...tickStyle}));
  marks.push(Plot.tickX(xTicksMajor, {x: d => d, insetTop: PH - 35, ...tickStyle}));
  marks.push(Plot.tickX(xTicksMajor, {x: d => d, insetBottom: PH - 35, ...tickStyle}));
  marks.push(Plot.tickY(yTicksMinor, {y: d => d, insetRight: PW - 17, ...tickStyle}));
  marks.push(Plot.tickY(yTicksMinor, {y: d => d, insetLeft: PW - 17, ...tickStyle}));
  marks.push(Plot.tickY(yTicksMajor, {y: d => d, insetRight: PW - 33, ...tickStyle}));
  marks.push(Plot.tickY(yTicksMajor, {y: d => d, insetLeft: PW - 33, ...tickStyle}));
  if (p.yLab) marks.push(Plot.text(yTickLabels, {y: d => d, text: d => String(d), frameAnchor: "left", dx: -22, dy: -3, textAnchor: "end", fontSize: 44, fill: "#222"}));
  if (p.xLab) marks.push(Plot.text(xTickLabels, {x: d => d, text: d => d3.format(",")(d), frameAnchor: "bottom", dy: 32, lineAnchor: "top", fontSize: 44, fill: "#222"}));
  marks.push(Plot.text([p.label], {text: d => d, frameAnchor: "top-right", dx: -82, dy: 100, textAnchor: "end", lineAnchor: "bottom", fontSize: 44, fill: "#222"}));

  const svg = Plot.plot({
    width: PW + M.left + M.right,
    height: PH + M.top + M.bottom,
    marginLeft: M.left, marginRight: M.right, marginTop: M.top, marginBottom: M.bottom,
    x: {domain: xDomain, axis: null},
    y: {domain: yDomain, axis: null},
    style: {background: "transparent", fontFamily: FONT, overflow: "visible"},
    marks
  });
  svg.style.position = "absolute";
  svg.style.left = (p.px - M.left - ORIGIN.x) + "px";
  svg.style.top = (p.py - M.top - ORIGIN.y) + "px";
  svg.style.maxWidth = "none";
  container.appendChild(svg);
}
</script>
</body></html>
